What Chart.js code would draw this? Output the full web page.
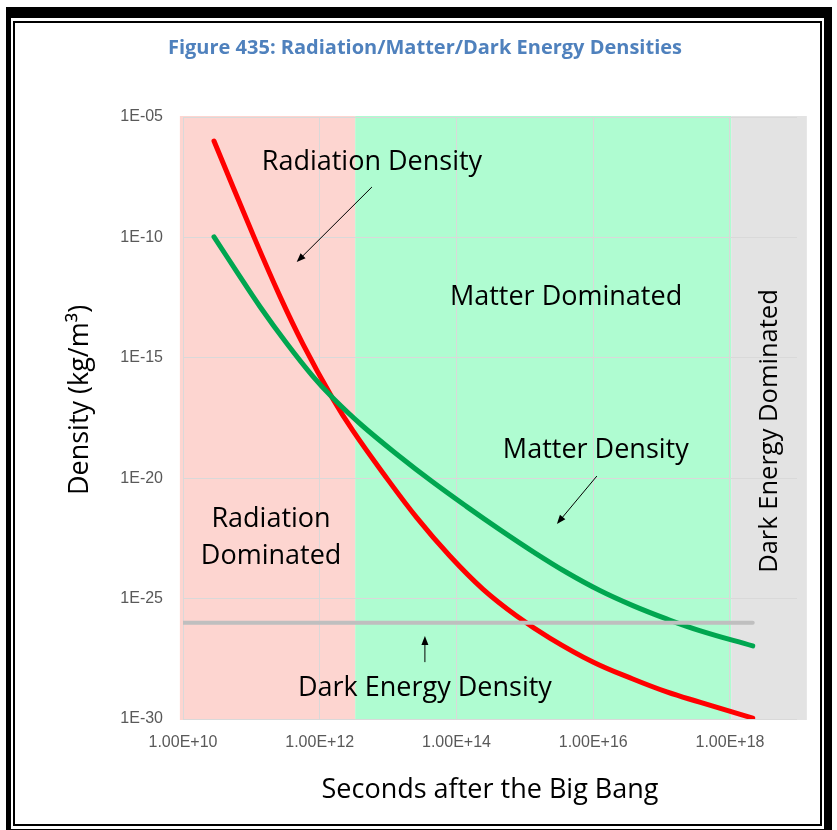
<!DOCTYPE html>
<html>
<head>
<meta charset="utf-8">
<script src="https://cdn.jsdelivr.net/npm/chart.js@4.4.1/dist/chart.umd.min.js"></script>
<style>
  html, body { margin: 0; padding: 0; background: #fff; }
  #wrap { position: relative; width: 837px; height: 830px; overflow: hidden; }
  canvas { position: absolute; left: 0; top: 0; }
  .frameOuter { position: absolute; left: 6px; top: 7px; width: 826px; height: 830px; box-sizing: border-box;
    border-style: solid; border-color: #000; border-width: 11px 8px 8px 5px; }
  .frameInner { position: absolute; left: 13px; top: 21px; width: 809px; height: 805px; box-sizing: border-box;
    border: 2px solid #000; }
</style>
</head>
<body>
<div id="wrap">
  <canvas id="densityChart" width="837" height="830"></canvas>
  <div class="frameOuter"></div>
  <div class="frameInner"></div>
</div>
<script>
  // seconds after the big bang / density in kg/m3
  const radiationTime = [2.84e10, 1.09e11, 2.62e11, 5.68e11, 1.56e12, 3.05e12, 8.4e12, 2.64e13, 8.0e13, 2.43e14,
    7.6e14, 2.32e15, 9.9e15, 3.8e16, 1.19e17, 3.6e17, 1.1e18, 2.15e18];
  const radiationDensity = [1.0e-6, 1.05e-10, 3.56e-13, 3.72e-15, 1.94e-17, 9.4e-19, 1.65e-20, 2.25e-22, 5.9e-24, 2.5e-25,
    1.9e-26, 2.3e-27, 2.33e-28, 4.57e-29, 1.33e-29, 5.0e-30, 1.93e-30, 1.09e-30];

  const matterTime = [2.84e10, 6.1e10, 1.34e11, 3.28e11, 8.0e11, 1.57e12, 4.08e12, 1.49e13, 4.5e13, 1.41e14,
    4.3e14, 1.31e15, 4.1e15, 1.25e16, 3.8e16, 1.18e17, 3.6e17, 2.15e18];
  const matterDensity = [1.05e-10, 3.8e-12, 1.32e-13, 4.0e-15, 1.64e-16, 2.08e-17, 1.62e-18, 7.8e-20, 6.9e-21, 6.6e-22,
    7.3e-23, 8.95e-24, 1.21e-24, 2.16e-25, 5.1e-26, 1.43e-26, 4.7e-27, 1.08e-27];

  const darkEnergyTime = [1e10, 2.15e18];
  const darkEnergyDensity = [1.0e-26, 1.0e-26];

  const xTickValues = [1e10, 1e12, 1e14, 1e16, 1e18];
  const xTickLabels = ["1.00E+10", "1.00E+12", "1.00E+14", "1.00E+16", "1.00E+18"];
  const yTickValues = [1e-30, 1e-25, 1e-20, 1e-15, 1e-10, 1e-5];
  const yTickLabels = ["1E-30", "1E-25", "1E-20", "1E-15", "1E-10", "1E-05"];

  // era bands: start, end (seconds), colour
  const eraStart = [9.0e9, 3.3e12, 1.04e18];
  const eraEnd = [3.3e12, 1.04e18, 1.33e19];
  const eraColor = ["#fdd5d0", "#affcd1", "#e3e3e3"];

  // text labels placed at (seconds, density)
  const labelText = ["Radiation Density", "Matter Dominated", "Matter Density", "Radiation", "Dominated", "Dark Energy Density"];
  const labelTime = [5.8e12, 4.0e15, 1.09e16, 1.94e11, 1.94e11, 3.45e13];
  const labelDensity = [1.35e-7, 3.35e-13, 1.48e-19, 2.0e-22, 5.9e-24, 1.94e-29];

  // arrows: from (time, density) to (time, density)
  const arrowFromTime = [5.8e12, 1.13e16, 3.45e13];
  const arrowFromDensity = [1.24e-8, 1.23e-20, 2.3e-28];
  const arrowToTime = [4.6e11, 2.94e15, 3.45e13];
  const arrowToDensity = [9.5e-12, 1.25e-22, 2.8e-27];

  const chartTitle = "Figure 435: Radiation/Matter/Dark Energy Densities";
  const yTitle = "Density (kg/m³)";

  const textFont = "'Open Sans', Lato, sans-serif";
  const tickFont = "'Liberation Sans', Arial, sans-serif";

  function toPoints(xs, ys) {
    return xs.map((x, i) => ({ x: x, y: ys[i] }));
  }

  const erasPlugin = {
    id: "eras",
    beforeDraw(chart) {
      const ctx = chart.ctx;
      const area = chart.chartArea;
      const xs = chart.scales.x;
      ctx.save();
      for (let i = 0; i < eraStart.length; i++) {
        const x0 = xs.getPixelForValue(eraStart[i]);
        const x1 = xs.getPixelForValue(eraEnd[i]);
        ctx.fillStyle = eraColor[i];
        ctx.fillRect(x0, area.top - 1, x1 - x0, area.bottom - area.top + 2);
      }
      ctx.restore();
    }
  };

  const notesPlugin = {
    id: "notes",
    afterDraw(chart) {
      const ctx = chart.ctx;
      const xs = chart.scales.x;
      const ys = chart.scales.y;
      ctx.save();
      ctx.textAlign = "center";
      ctx.textBaseline = "middle";

      // title
      ctx.fillStyle = "#4f81bd";
      ctx.font = "bold 20px " + textFont;
      ctx.fillText(chartTitle, 425, 48);

      // y axis title
      ctx.fillStyle = "#000";
      ctx.save();
      ctx.font = "27px " + textFont;
      ctx.translate(80, 400);
      ctx.rotate(-Math.PI / 2);
      ctx.fillText(yTitle, 0, 0);
      ctx.restore();

      ctx.font = "27px " + textFont;
      for (let i = 0; i < labelText.length; i++) {
        ctx.fillText(labelText[i], xs.getPixelForValue(labelTime[i]), ys.getPixelForValue(labelDensity[i]));
      }

      // vertical label in the dark energy band
      ctx.save();
      ctx.font = "25.5px " + textFont;
      ctx.translate(xs.getPixelForValue(3.8e18), ys.getPixelForValue(9.1e-19));
      ctx.rotate(-Math.PI / 2);
      ctx.fillText("Dark Energy Dominated", 0, 0);
      ctx.restore();

      // arrows
      ctx.strokeStyle = "#000";
      ctx.lineWidth = 1;
      for (let i = 0; i < arrowFromTime.length; i++) {
        const x0 = xs.getPixelForValue(arrowFromTime[i]);
        const y0 = ys.getPixelForValue(arrowFromDensity[i]);
        const x1 = xs.getPixelForValue(arrowToTime[i]);
        const y1 = ys.getPixelForValue(arrowToDensity[i]);
        const a = Math.atan2(y1 - y0, x1 - x0);
        ctx.beginPath();
        ctx.moveTo(x0, y0);
        ctx.lineTo(x1 - 6 * Math.cos(a), y1 - 6 * Math.sin(a));
        ctx.stroke();
        ctx.beginPath();
        ctx.moveTo(x1, y1);
        ctx.lineTo(x1 - 9 * Math.cos(a) + 3.5 * Math.sin(a), y1 - 9 * Math.sin(a) - 3.5 * Math.cos(a));
        ctx.lineTo(x1 - 9 * Math.cos(a) - 3.5 * Math.sin(a), y1 - 9 * Math.sin(a) + 3.5 * Math.cos(a));
        ctx.closePath();
        ctx.fill();
      }
      ctx.restore();
    }
  };

  const ctx = document.getElementById("densityChart").getContext("2d");
  new Chart(ctx, {
    type: "line",
    data: {
      datasets: [
        {
          label: "Dark Energy Density",
          data: toPoints(darkEnergyTime, darkEnergyDensity),
          borderColor: "#bfbfbf",
          borderWidth: 4,
          order: 0
        },
        {
          label: "Matter Density",
          data: toPoints(matterTime, matterDensity),
          borderColor: "#00a650",
          borderWidth: 5,
          tension: 0.4,
          order: 1
        },
        {
          label: "Radiation Density",
          data: toPoints(radiationTime, radiationDensity),
          borderColor: "#ff0000",
          borderWidth: 5,
          tension: 0.4,
          order: 2
        }
      ]
    },
    options: {
      responsive: false,
      animation: false,
      layout: { padding: { left: 15, right: 40, top: 117, bottom: 20 } },
      elements: { point: { radius: 0 }, line: { borderCapStyle: "round" } },
      plugins: {
        legend: { display: false },
        tooltip: { enabled: false },
        title: { display: false }
      },
      scales: {
        x: {
          type: "logarithmic",
          min: 1e10,
          max: 9.55e18,
          afterBuildTicks: (scale) => { scale.ticks = xTickValues.map(v => ({ value: v })); },
          afterFit: (scale) => { scale.height = 91; },
          ticks: {
            autoSkip: false,
            maxRotation: 0,
            padding: 14,
            color: "#595959",
            font: { family: tickFont, size: 16 },
            callback: (v, i) => xTickLabels[i]
          },
          grid: { color: "#d9d9d9", drawTicks: false },
          border: { display: false },
          title: {
            display: true,
            text: "Seconds after the Big Bang",
            color: "#000",
            font: { family: textFont, size: 27 },
            padding: { top: 0, bottom: 3 }
          }
        },
        y: {
          type: "logarithmic",
          min: 1e-30,
          max: 1e-5,
          afterBuildTicks: (scale) => { scale.ticks = yTickValues.map(v => ({ value: v })); },
          afterFit: (scale) => { scale.width = 168; },
          ticks: {
            autoSkip: false,
            padding: 20,
            color: "#595959",
            font: { family: tickFont, size: 16 },
            callback: (v, i) => yTickLabels[i]
          },
          grid: { color: "#d9d9d9", drawTicks: false },
          border: { display: false }
        }
      }
    },
    plugins: [erasPlugin, notesPlugin]
  });
</script>
</body>
</html>
